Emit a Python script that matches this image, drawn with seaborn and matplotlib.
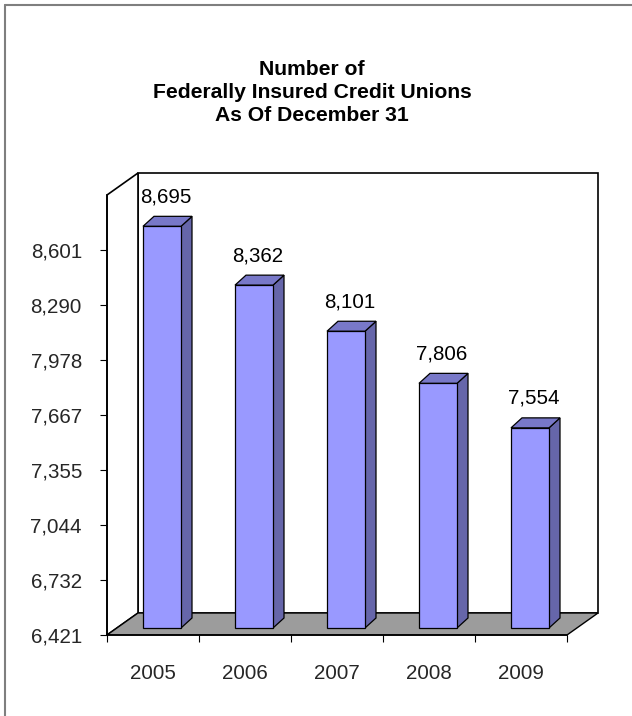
import numpy as np
import pandas as pd
import seaborn as sns
import matplotlib
matplotlib.use("Agg")
import matplotlib.pyplot as plt
from matplotlib.patches import Polygon
from matplotlib.lines import Line2D

# ---- data ----
years = ["2005", "2006", "2007", "2008", "2009"]
counts = [8695, 8362, 8101, 7806, 7554]
ytick_values = [6421, 6732, 7044, 7355, 7667, 7978, 8290, 8601]
title_lines = ["Number of", "Federally Insured Credit Unions", "As Of December 31"]

# ---- style ----
sns.set_theme(style="white")
plt.rcParams["font.family"] = ["Liberation Sans", "DejaVu Sans"]

W, H, DPI = 632, 716, 100
fig = plt.figure(figsize=(W / DPI, H / DPI), dpi=DPI)
fig.patch.set_facecolor("white")

# axes placement (front plane of the 3D box)
left_px, right_px, bottom_px, top_px = 107, 567, 635, 195
ax = fig.add_axes([left_px / W, 1 - bottom_px / H,
                   (right_px - left_px) / W, (bottom_px - top_px) / H])
ax.set_facecolor("none")

ymin, ymax = 6421, 8912
xmin, xmax = -0.5, 4.5
px_per_x = (right_px - left_px) / (xmax - xmin)
units_per_py = (ymax - ymin) / (bottom_px - top_px)

def dx(px):
    return px / px_per_x

def dy(px):
    return px * units_per_py

front_col = "#9999FF"
side_col = "#6666AA"
top_col = "#7878C8"
floor_col = "#9C9C9C"
edge = "black"
lw = 0.9
fs = 14.8

df = pd.DataFrame({"year": years, "count": counts})
bar_w = 38 / px_per_x
sns.barplot(data=df, x="year", y="count", color=front_col, width=bar_w,
            edgecolor=edge, linewidth=lw, saturation=1, ax=ax, zorder=4)
bars = list(ax.patches)

ax.set_xlim(xmin, xmax)
ax.set_ylim(ymin, ymax)

# walls and floor (depth offset)
wdx, wdy = dx(31), dy(22)
back_wall = Polygon([(xmin + wdx, ymin + wdy), (xmax + wdx, ymin + wdy),
                     (xmax + wdx, ymax + wdy), (xmin + wdx, ymax + wdy)],
                    closed=True, facecolor="white", edgecolor=edge, lw=1.2,
                    zorder=0.5, clip_on=False)
left_wall = Polygon([(xmin, ymin), (xmin, ymax), (xmin + wdx, ymax + wdy),
                     (xmin + wdx, ymin + wdy)], closed=True, facecolor="white",
                    edgecolor=edge, lw=1.2, zorder=0.6, clip_on=False)
floor = Polygon([(xmin, ymin), (xmax, ymin), (xmax + wdx, ymin + wdy),
                 (xmin + wdx, ymin + wdy)], closed=True, facecolor=floor_col,
                edgecolor=edge, lw=1.0, zorder=0.7, clip_on=False)
for p in (back_wall, left_wall, floor):
    ax.add_patch(p)

# 3D bars: shift front faces into depth and add side / top faces
offx, offy = dx(9), dy(7)
sdx, sdy = dx(11), dy(10)
for p, val, lab in zip(bars, counts, years):
    p.set_x(p.get_x() + offx)
    p.set_y(ymin + offy)
    p.set_height(p.get_height() - ymin)
    p.set_clip_on(False)
    x0 = p.get_x()
    x1 = x0 + p.get_width()
    y0 = p.get_y()
    y1 = y0 + p.get_height()
    side = Polygon([(x1, y0), (x1 + sdx, y0 + sdy), (x1 + sdx, y1 + sdy), (x1, y1)],
                   closed=True, facecolor=side_col, edgecolor=edge, lw=lw,
                   zorder=3, clip_on=False)
    top = Polygon([(x0, y1), (x0 + sdx, y1 + sdy), (x1 + sdx, y1 + sdy), (x1, y1)],
                  closed=True, facecolor=top_col, edgecolor=edge, lw=lw,
                  zorder=3, clip_on=False)
    ax.add_patch(side)
    ax.add_patch(top)
    ax.text((x0 + x1) / 2 + dx(4), y1 + sdy + dy(14), f"{val:,}",
            ha="center", va="baseline", fontsize=fs, color="black",
            clip_on=False, zorder=6)

# axes styling
for s in ("top", "right"):
    ax.spines[s].set_visible(False)
for s in ("left", "bottom"):
    ax.spines[s].set_color(edge)
    ax.spines[s].set_linewidth(1.2)
    ax.spines[s].set_zorder(5)

ax.set_yticks(ytick_values)
ax.set_yticklabels([f"{v:,}" for v in ytick_values], fontsize=fs)
ax.tick_params(axis="y", which="major", direction="out", length=5, width=0.8,
               color=edge, left=True, pad=13)
ax.set_xticks(range(len(years)))
ax.set_xticklabels(years, fontsize=fs)
ax.set_xticks(np.arange(-0.5, len(years), 1.0), minor=True)
ax.tick_params(axis="x", which="major", length=0, pad=21)
ax.tick_params(axis="x", which="minor", direction="out", length=5, width=0.8,
               color=edge, bottom=True)
ax.set_xlabel("")
ax.set_ylabel("")
ax.grid(False)

# title
for i, line in enumerate(title_lines):
    fig.text(312 / W, 1 - (75 + 23 * i) / H, line, ha="center", va="baseline",
             fontsize=15.2, fontweight="bold", color="black")

# outer frame (left and top edges visible)
fx, fy = 4.5 / W, 1 - 4.5 / H
fig.add_artist(Line2D([fx, fx], [-0.1, fy], transform=fig.transFigure,
                      color="#7f7f7f", lw=1.5))
fig.add_artist(Line2D([fx, 1.1], [fy, fy], transform=fig.transFigure,
                      color="#7f7f7f", lw=1.5))

fig.savefig("out.png", dpi=DPI)
